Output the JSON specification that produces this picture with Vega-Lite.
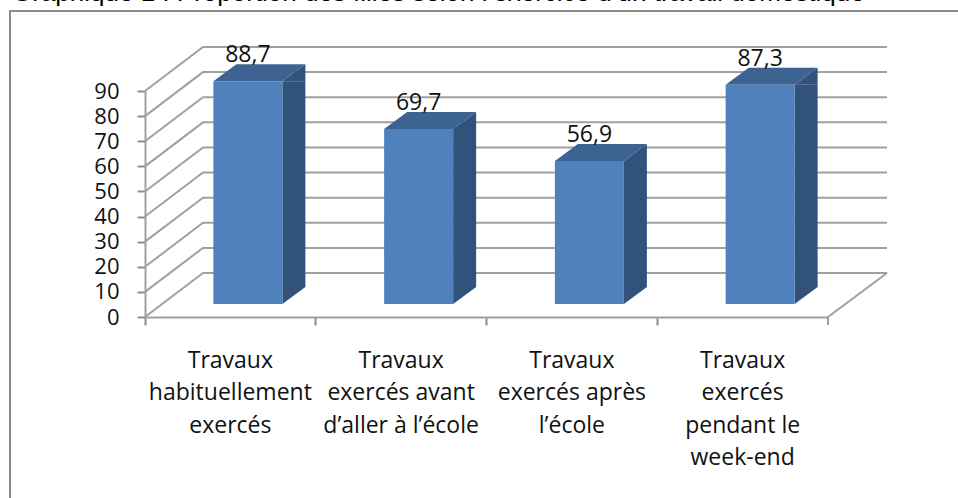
{
  "$schema": "https://vega.github.io/schema/vega-lite/v6.json",
  "width": 742,
  "height": 226,
  "autosize": {"type": "none"},
  "padding": {"left": 145, "top": 91, "right": 71, "bottom": 181},
  "background": "white",
  "config": {"view": {"stroke": null}, "text": {"font": "Open Sans"}},
  "title": {
    "text": "Graphique 1 : Proportion des filles selon l’exercice d’un travail domestique",
    "anchor": "start",
    "frame": "group",
    "dx": -133,
    "offset": 1,
    "font": "Liberation Sans",
    "fontSize": 26,
    "fontWeight": "normal",
    "color": "#000000"
  },
  "resolve": {"axis": {"x": "independent", "y": "independent"}},
  "datasets": {
    "bars": [
      {"travail": "Travaux\nhabituellement\nexercés", "pourcentage": 88.7, "label": "88,7"},
      {"travail": "Travaux\nexercés avant\nd’aller à l’école", "pourcentage": 69.7, "label": "69,7"},
      {"travail": "Travaux\nexercés après\nl’école", "pourcentage": 56.9, "label": "56,9"},
      {"travail": "Travaux\nexercés\npendant le\nweek-end", "pourcentage": 87.3, "label": "87,3"}
    ],
    "ticks": [{"v": 0}, {"v": 10}, {"v": 20}, {"v": 30}, {"v": 40}, {"v": 50}, {"v": 60}, {"v": 70}, {"v": 80}, {"v": 90}],
    "base": [{"v": 0}]
  },
  "layer": [
    {
      "data": {"name": "base"},
      "mark": {"type": "point", "filled": false, "opacity": 1, "size": 4, "stroke": "#8c8c8c", "strokeWidth": 2, "shape": "M442,-306L-506,-306L-506,181"},
      "encoding": {"y": {"field": "v", "type": "quantitative", "scale": {"domain": [0, 90]}, "title": null, "axis": {"orient": "left", "values": [0, 10, 20, 30, 40, 50, 60, 70, 80, 90], "tickCount": 10, "grid": false, "domainColor": "#a0a0a0", "domainWidth": 2, "tickColor": "#8c8c8c", "tickWidth": 2, "tickSize": 8, "labelFont": "Open Sans", "labelFontSize": 22, "labelColor": "#111111", "labelPadding": 18, "labelOverlap": false, "labelBound": false, "labelFlush": false}}}
    },
    {
      "data": {"name": "ticks"},
      "mark": {"type": "point", "filled": false, "opacity": 1, "size": 4, "stroke": "#a0a0a0", "strokeWidth": 2, "shape": "M-371,0L-313,-44L371,-44"},
      "encoding": {"y": {"field": "v", "type": "quantitative", "axis": null}}
    },
    {
      "data": {"name": "base"},
      "mark": {"type": "point", "filled": false, "opacity": 1, "size": 4, "stroke": "#a0a0a0", "strokeWidth": 2, "shape": "M312,8L312,0L371,-44"},
      "encoding": {"y": {"field": "v", "type": "quantitative", "axis": null}}
    },
    {
      "data": {"name": "bars"},
      "mark": {"type": "bar", "size": 23, "color": "#31527a", "xOffset": 63.5, "yOffset": -13, "y2Offset": -30},
      "encoding": {
        "x": {"field": "travail", "type": "nominal", "sort": null, "title": null,
          "scale": {"domain": ["Travaux\nhabituellement\nexercés", "Travaux\nexercés avant\nd’aller à l’école", "Travaux\nexercés après\nl’école", "Travaux\nexercés\npendant le\nweek-end"], "range": [0, 683], "paddingInner": 0, "paddingOuter": 0},
          "axis": {"orient": "bottom", "labelExpr": "split(datum.label, '\\n')", "labelAngle": 0, "bandPosition": 0, "domainColor": "#a0a0a0", "domainWidth": 2, "tickColor": "#8c8c8c", "tickWidth": 2, "tickSize": 8, "labelFont": "Open Sans", "labelFontSize": 23, "labelColor": "#111111", "labelPadding": 24, "labelLineHeight": 32.5, "labelBaseline": "top", "labelLimit": 0, "labelOverlap": false, "labelFlush": false}},
        "y": {"field": "pourcentage", "type": "quantitative", "axis": null},
        "y2": {"datum": 0}
      }
    },
    {
      "data": {"name": "bars"},
      "mark": {"type": "point", "filled": true, "opacity": 1, "size": 4, "color": "#31527a", "xOffset": 17.5, "yOffset": -13, "shape": "M34.5,0L57.5,-17L34.5,-17Z"},
      "encoding": {"x": {"field": "travail", "type": "nominal", "axis": null}, "y": {"datum": 0, "axis": null}}
    },
    {
      "data": {"name": "bars"},
      "mark": {"type": "point", "filled": true, "opacity": 1, "size": 4, "color": "#31527a", "xOffset": 17.5, "yOffset": -13, "shape": "M34.5,0L57.5,-17L57.5,0Z"},
      "encoding": {"x": {"field": "travail", "type": "nominal", "axis": null}, "y": {"field": "pourcentage", "type": "quantitative", "axis": null}}
    },
    {
      "data": {"name": "bars"},
      "mark": {"type": "point", "filled": true, "opacity": 1, "size": 4, "color": "#3c6391", "xOffset": 17.5, "yOffset": -13, "shape": "M-34.5,0L-11.5,-17L57.5,-17L34.5,0Z"},
      "encoding": {"x": {"field": "travail", "type": "nominal", "axis": null}, "y": {"field": "pourcentage", "type": "quantitative", "axis": null}}
    },
    {
      "data": {"name": "bars"},
      "mark": {"type": "bar", "size": 69, "color": "#4f81bd", "xOffset": 17.5, "yOffset": -13, "y2Offset": -13},
      "encoding": {"x": {"field": "travail", "type": "nominal", "axis": null}, "y": {"field": "pourcentage", "type": "quantitative", "axis": null}, "y2": {"datum": 0}}
    },
    {
      "data": {"name": "bars"},
      "mark": {"type": "text", "font": "Open Sans", "fontSize": 23, "color": "#111111", "xOffset": 17.5, "yOffset": -32, "baseline": "alphabetic"},
      "encoding": {"x": {"field": "travail", "type": "nominal", "axis": null}, "y": {"field": "pourcentage", "type": "quantitative", "axis": null}, "text": {"field": "label"}}
    }
  ]
}
